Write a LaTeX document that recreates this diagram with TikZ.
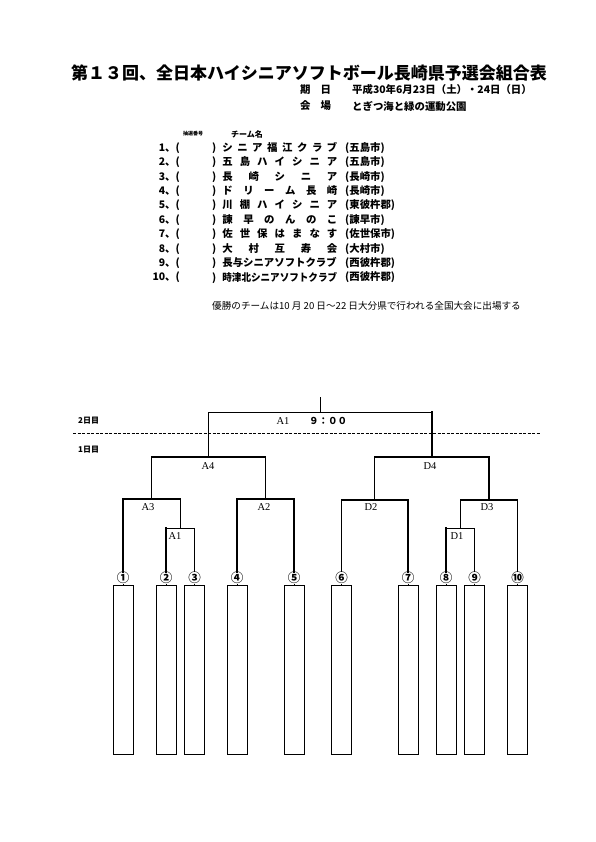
\documentclass[tikz,border=0pt]{standalone}
\usepackage{fontspec}
\usepackage{graphicx}
\setmainfont{Liberation Serif}
\newfontfamily\jp{Noto Sans CJK JP}
\usetikzlibrary{positioning}
\tikzset{
      jptxt/.style={
        font=\jp\bfseries\fontsize{10.4}{12}\selectfont,
        inner sep=0pt
      },
      teambox/.style={
        draw,
        line width=0.6pt,
        minimum width=20pt,
        minimum height=169pt,
        inner sep=0pt
      },
      seed/.style={font=\jp\bfseries\fontsize{12.5}{12.5}\selectfont, inner sep=0pt},
      matchlbl/.style={font=\fontsize{10.5}{11}\selectfont, inner sep=0pt},
      win/.style={line width=1.4pt, line cap=rect},
      lose/.style={line width=0.6pt, line cap=rect}
    }

\begin{document}
\begin{tikzpicture}[x=1pt,y=-1pt]
    \useasboundingbox (0,0) rectangle (595,842);
    % heading
    \node[jptxt, font=\jp\bfseries\fontsize{17}{20}\selectfont] (title) at (309,73) {第１３回、全日本ハイシニアソフトボール長崎県予選会組合表};
    \node[jptxt, anchor=west] (datekey) at (300,90) {期\hspace{10pt}日};
    \node[jptxt, anchor=west] (date) at (352,90) {平成30年6月23日（土）・24日（日）};
    \node[jptxt, anchor=west] (placekey) at (300,106) {会\hspace{10pt}場};
    \node[jptxt, anchor=west] (place) at (352,106) {とぎつ海と緑の運動公園};
    \node[jptxt, font=\jp\bfseries\fontsize{5}{5}\selectfont] (hdnum) at (193,134) {抽選番号};
    \node[jptxt, font=\jp\bfseries\fontsize{8}{8}\selectfont] (hdname) at (247,134) {チーム名};
    % team list
    \foreach \i/\nm/\tw [count=\k from 0] in {1/{シ ニ ア 福 江 ク ラ ブ}/五島市, 2/{五 島 ハ イ シ ニ ア}/五島市, 3/{長 崎 シ ニ ア}/長崎市, 4/{ド リ ー ム 長 崎}/長崎市, 5/{川 棚 ハ イ シ ニ ア}/東彼杵郡, 6/{諫 早 の ん の こ}/諫早市, 7/{佐 世 保 は ま な す}/佐世保市, 8/{大 村 互 寿 会}/大村市, 9/{長与シニアソフトクラブ}/西彼杵郡, 10/{\scalebox{0.92}[1]{時津北シニアソフトクラブ}}/西彼杵郡} {
      \pgfmathsetmacro\yy{148+14.4*\k}
      \node[jptxt, anchor=east] (num\i) at (180,\yy) {\i、(};
      \node[jptxt, anchor=west] (team\i) at (212,\yy) {)\hspace{6pt}\makebox[115pt][s]{\nm}};
      \node[jptxt, anchor=west] (town\i) at (345,\yy) {(\tw)};
    }
    \node[jptxt, font=\jp\fontsize{9.6}{10}\selectfont, anchor=west] (note) at (212,306) {優勝のチームは10 月 20 日～22 日大分県で行われる全国大会に出場する};
    % days
    \node[jptxt, font=\jp\bfseries\fontsize{8}{8}\selectfont, anchor=west] (day2) at (78,421) {2日目};
    \node[jptxt, font=\jp\bfseries\fontsize{8}{8}\selectfont, anchor=west] (day1) at (78,450) {1日目};
    \coordinate (dl) at (73,433);
    \coordinate (dr) at (540,433);
    \draw[line width=0.6pt, dash pattern=on 3pt off 1.5pt] (dl) -- (dr);
    % teams
    \foreach \i/\x/\c in {1/123/①,2/166/②,3/194.5/③,4/237/④,5/294/⑤,6/341.5/⑥,7/408/⑦,8/446/⑧,9/474.5/⑨,10/517.5/⑩} {
      \node[teambox, anchor=north] (t\i) at (\x,585) {};
      \node[seed] (n\i) at (\x,578) {\c};
      \draw[lose] (n\i.south) -- (t\i.north);
    }
    % junctions
    \coordinate (jA1) at (180.25,528);
    \coordinate (jA3) at (151.6,499);
    \coordinate (jA2) at (265.5,499);
    \coordinate (jA4) at (208.6,457);
    \coordinate (jD1) at (460.25,528);
    \coordinate (jD2) at (374.75,500);
    \coordinate (jD3) at (488.9,500);
    \coordinate (jD4) at (431.8,457);
    \coordinate (jF) at (320.2,412);
    \coordinate (top) at (320.2,398);
    % A1
    \draw[lose] (n2.north |- jA1) -- (n3.north |- jA1);
    \draw[win] (n2.north) -- (n2.north |- jA1);
    \draw[lose] (n3.north) -- (n3.north |- jA1);
    % A3
    \draw[win] (n1.north |- jA3) -- (jA1 |- jA3);
    \draw[win] (n1.north) -- (n1.north |- jA3);
    \draw[win] (jA1) -- (jA1 |- jA3);
    % A2
    \draw[win] (n4.north |- jA2) -- (n5.north |- jA2);
    \draw[win] (n4.north) -- (n4.north |- jA2);
    \draw[win] (n5.north) -- (n5.north |- jA2);
    % A4
    \draw[win] (jA3 |- jA4) -- (jA2 |- jA4);
    \draw[lose] (jA3) -- (jA3 |- jA4);
    \draw[lose] (jA2) -- (jA2 |- jA4);
    % D1
    \draw[lose] (n8.north |- jD1) -- (n9.north |- jD1);
    \draw[win] (n8.north) -- (n8.north |- jD1);
    \draw[lose] (n9.north) -- (n9.north |- jD1);
    % D2
    \draw[win] (n6.north |- jD2) -- (n7.north |- jD2);
    \draw[lose] (n6.north) -- (n6.north |- jD2);
    \draw[win] (n7.north) -- (n7.north |- jD2);
    % D3
    \draw[win] (jD1 |- jD3) -- (n10.north |- jD3);
    \draw[lose] (jD1) -- (jD1 |- jD3);
    \draw[lose] (n10.north) -- (n10.north |- jD3);
    % D4
    \draw[win] (jD2 |- jD4) -- (jD3 |- jD4);
    \draw[win] (jD2) -- (jD2 |- jD4);
    \draw[win] (jD3) -- (jD3 |- jD4);
    % final
    \draw[lose] (jA4 |- jF) -- (jD4 |- jF);
    \draw[lose] (jA4) -- (jA4 |- jF);
    \draw[win] (jD4) -- (jD4 |- jF);
    \draw[win] (jF) -- (top);
    % match labels
    \node[matchlbl] (lA1) at (175,536) {A1};
    \node[matchlbl] (lA3) at (148,507) {A3};
    \node[matchlbl] (lA2) at (264,507) {A2};
    \node[matchlbl] (lA4) at (208,466) {A4};
    \node[matchlbl] (lD1) at (457,536) {D1};
    \node[matchlbl] (lD2) at (371,507) {D2};
    \node[matchlbl] (lD3) at (487,507) {D3};
    \node[matchlbl] (lD4) at (430,466) {D4};
    \node[matchlbl] (lF) at (283,421) {A1};
    \node[jptxt, font=\jp\bfseries\fontsize{9.5}{10}\selectfont] (time) at (328,421) {９：００};
\end{tikzpicture}
\end{document}
